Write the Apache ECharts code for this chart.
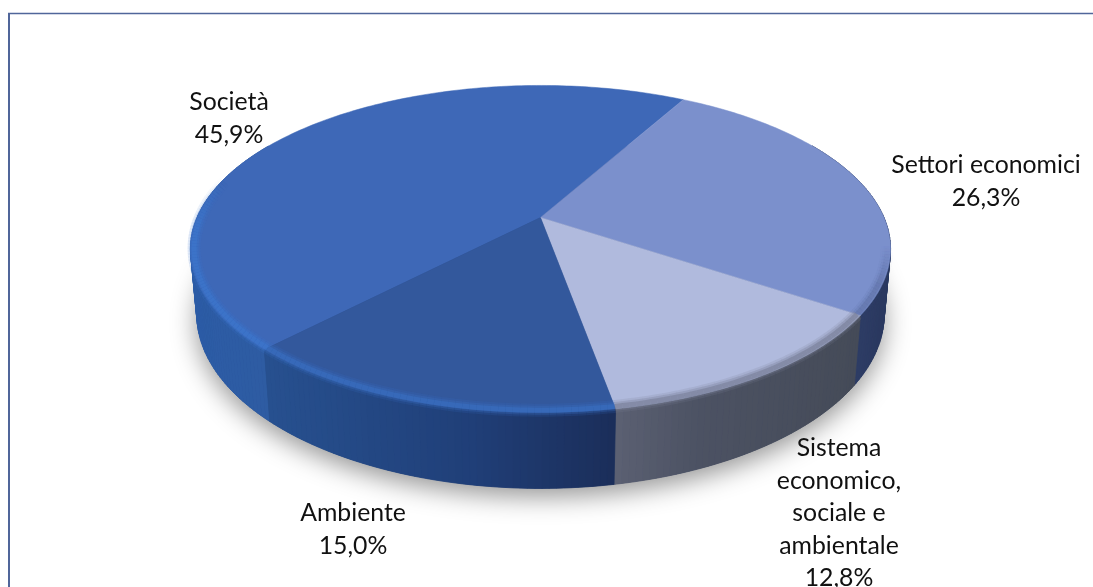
<!DOCTYPE html>
<html>
<head>
<meta charset="utf-8">
<style>html,body{margin:0;padding:0;background:#fff}#c{width:1093px;height:587px}</style>
<script src="https://cdn.jsdelivr.net/npm/echarts@6/dist/echarts.min.js"></script>
</head>
<body>
<div id="c"></div>
<script>
// ---- data ----
const categories = ['Società', 'Settori economici', 'Sistema\neconomico,\nsociale e\nambientale', 'Ambiente'];
const shares = [45.9, 26.3, 12.8, 15.0];

// ---- styles and layout (separate from the data) ----
const topColors = ['#3e68b7', '#7b90cc', '#b0badd', '#33589c'];
const wallStops = [
  [[190, [44, 92, 166]], [268, [46, 92, 162]]],
  [[855, [46, 61, 102]], [892, [42, 56, 94]]],
  [[612, [92, 97, 115]], [700, [76, 82, 99]], [860, [69, 75, 88]]],
  [[268, [39, 80, 143]], [470, [32, 63, 120]], [612, [27, 46, 90]]]
];
const rimColors = [[60, 118, 205], [70, 84, 130], [120, 127, 152], [58, 112, 196]];
const rimStrength = [1, 0.35, 1, 0.9];
const labelAnchors = [[229, 102], [986, 165], [839, 448], [353, 513]];
const startAngle = -136.2;
const topFace = {cx: 540.5, cy: 217.5, rx: 343.5, ry: 157.5, k: 0.1927};
const baseFace = {cx: 540.5, cy: 281, rx: 337.5, ry: 168, k: 0.19};
const frameColor = '#50669a';

const total = shares.reduce((a, b) => a + b, 0);
function project(f, deg, s) {
  const t = deg * Math.PI / 180, sc = s === undefined ? 1 : s;
  const u = Math.sin(t) * sc, v = -Math.cos(t) * sc, w = 1 - f.k * v;
  return [f.cx + f.rx * u / w, f.cy + f.ry * v / w];
}
function sliceSpan(i) {
  let a = startAngle;
  for (let j = 0; j < i; j++) a += shares[j] / total * 360;
  return [a, a + shares[i] / total * 360];
}
function arc(f, a, b, step) {
  const pts = [], n = Math.max(1, Math.ceil((b - a) / (step || 1)));
  for (let i = 0; i <= n; i++) pts.push(project(f, a + (b - a) * i / n));
  return pts;
}
function wallColor(i, x) {
  const st = wallStops[i];
  if (x <= st[0][0]) return 'rgb(' + st[0][1].join(',') + ')';
  for (let j = 1; j < st.length; j++) {
    if (x <= st[j][0]) {
      const t = (x - st[j - 1][0]) / (st[j][0] - st[j - 1][0]);
      return 'rgb(' + st[j][1].map((c, k) => Math.round(st[j - 1][1][k] + (c - st[j - 1][1][k]) * t)).join(',') + ')';
    }
  }
  return 'rgb(' + st[st.length - 1][1].join(',') + ')';
}
function norm(d) { return ((d % 360) + 360) % 360; }

const seriesData = shares.map((v, i) => ({name: categories[i], value: v}));

function renderWalls(params, api) {
  const i = params.dataIndex, span = sliceSpan(i), kids = [];
  if (i === 0) {
    kids.push({type: 'polygon', shape: {points: arc(baseFace, 0, 360, 2)},
      style: {fill: '#2a3f70', shadowBlur: 26, shadowColor: 'rgba(0,0,0,0.42)', shadowOffsetY: 8}});
  }
  for (let a = span[0]; a < span[1]; a += 1) {
    const b = Math.min(a + 1, span[1]);
    const n = norm((a + b) / 2);
    if (n < 60 || n > 300) continue;
    const p1 = project(topFace, a), p2 = project(topFace, b), p3 = project(baseFace, b), p4 = project(baseFace, a);
    const c = wallColor(i, (p1[0] + p2[0]) / 2);
    kids.push({type: 'polygon', shape: {points: [p1, p2, p3, p4]}, style: {fill: c, stroke: c, lineWidth: 0.8}});
  }
  return {type: 'group', children: kids};
}
function renderTop(params, api) {
  const i = params.dataIndex, span = sliceSpan(i);
  const pts = [[topFace.cx, topFace.cy]].concat(arc(topFace, span[0], span[1], 1));
  return {type: 'polygon', shape: {points: pts}, style: {fill: topColors[i], stroke: topColors[i], lineWidth: 0.5}};
}
function renderRim(params, api) {
  const i = params.dataIndex, span = sliceSpan(i), kids = [];
  const col = rimColors[i].join(',');
  const layers = [[13, 0.18], [9, 0.32], [5, 0.6]];
  for (let a = span[0]; a < span[1]; a += 1) {
    const b = Math.min(a + 1, span[1]);
    const n = norm((a + b) / 2);
    if (n < 100 || n > 284) continue;
    const fade = Math.min(1, (284 - n) / 18, (n - 100) / 14) * rimStrength[i];
    const p1 = project(topFace, a, 0.99), p2 = project(topFace, b, 0.99);
    layers.forEach(l => kids.push({type: 'line',
      shape: {x1: p1[0], y1: p1[1], x2: p2[0], y2: p2[1]},
      style: {stroke: 'rgba(' + col + ',' + (l[1] * fade) + ')', lineWidth: l[0], lineCap: 'butt'}}));
  }
  return {type: 'group', children: kids};
}
function renderLabel(params, api) {
  const i = params.dataIndex, p = labelAnchors[i];
  const txt = categories[i] + '\n' + shares[i].toFixed(1).replace('.', ',') + '%';
  return {type: 'text', x: p[0], y: p[1] - 16, style: {
    text: txt, align: 'center', verticalAlign: 'top', lineHeight: 32.5,
    font: '24.8px Lato, "Open Sans", sans-serif', fill: '#111'}};
}

const chart = echarts.init(document.getElementById('c'), null, {renderer: 'canvas', width: 1093, height: 587});
const base = {type: 'custom', coordinateSystem: 'none', data: seriesData, animation: false, silent: true,
  encode: {value: 0}, clip: false};
chart.setOption({
  backgroundColor: '#ffffff',
  animation: false,
  graphic: [
    {type: 'line', z: 1, shape: {x1: 8, y1: 13.5, x2: 1093, y2: 13.5}, style: {stroke: frameColor, lineWidth: 1.3}},
    {type: 'line', z: 1, shape: {x1: 9, y1: 13, x2: 9, y2: 587}, style: {stroke: frameColor, lineWidth: 2}}
  ],
  series: [
    Object.assign({}, base, {name: 'Pareti', z: 2, renderItem: renderWalls}),
    Object.assign({}, base, {name: 'Quota', z: 3, renderItem: renderTop}),
    Object.assign({}, base, {name: 'Bordo', z: 4, renderItem: renderRim}),
    Object.assign({}, base, {name: 'Etichette', z: 5, renderItem: renderLabel})
  ]
});
</script>
</body>
</html>
